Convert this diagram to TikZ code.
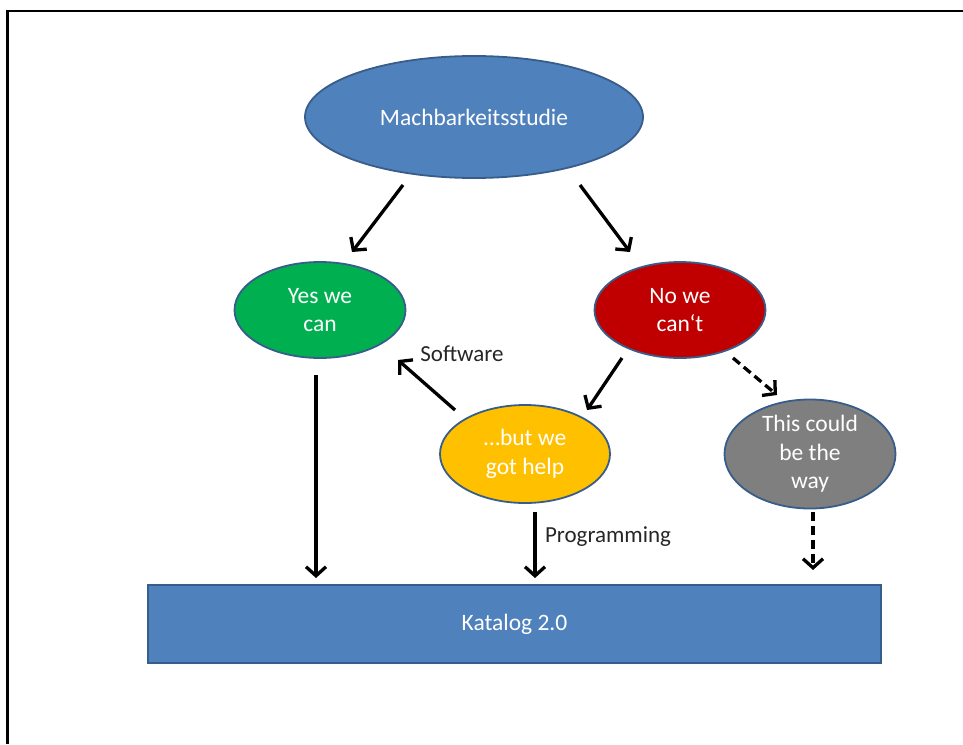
\documentclass[tikz,border=0pt]{standalone}
\usepackage{fontspec}
\setmainfont{Carlito}
\usetikzlibrary{arrows.meta,shapes.geometric}
\definecolor{boxblue}{HTML}{4F81BD}
\definecolor{edgeblue}{HTML}{385D8A}
\definecolor{okgreen}{HTML}{00B050}
\definecolor{nored}{HTML}{C00000}
\definecolor{helpyellow}{HTML}{FFC000}
\definecolor{waygray}{HTML}{7F7F7F}
\tikzset{
  blob/.style={ellipse, draw=edgeblue, line width=1.8pt, text=white,
    font=\fontsize{23.5}{28.5}\selectfont, align=center, inner sep=0pt},
  flow/.style={line width=3.3pt, -{Straight Barb[length=9pt,width=20pt,line width=3.3pt]}},
  maybe/.style={flow, dash pattern=on 9pt off 5pt},
  tag/.style={font=\fontsize{23}{27}\selectfont, text=black!85}
}
\begin{document}
\begin{tikzpicture}[x=1pt,y=-1pt]
  \useasboundingbox (0,0) rectangle (963,744);
  % page frame (left and top edges)
  \draw[line width=2.2pt] (7.5,744) -- (7.5,11) -- (963,11);

  \node[blob, fill=boxblue, minimum width=338pt, minimum height=122pt] (study) at (474,117) {Machbarkeitsstudie};
  \node[blob, fill=okgreen, minimum width=171pt, minimum height=96pt] (yes) at (320,310) {Yes we\\can};
  \node[blob, fill=nored, minimum width=171pt, minimum height=96pt] (no) at (680,310) {No we\\can‘t};
  \node[blob, fill=helpyellow, minimum width=170pt, minimum height=98pt] (help) at (525,454) {…but we\\got help};
  \node[blob, fill=waygray, minimum width=171pt, minimum height=100pt] (way) at (810,454) {This could\\be the\\way};
  \node[draw=edgeblue, line width=2.2pt, fill=boxblue, text=white, font=\fontsize{23.5}{28}\selectfont,
        minimum width=733pt, minimum height=78pt, inner sep=0pt] (cat) at (514.5,624) {Katalog 2.0};

  % connector end points
  \coordinate (a1) at (403,185); \coordinate (a2) at (352,252);
  \coordinate (b1) at (580,185); \coordinate (b2) at (630,252);
  \coordinate (c1) at (316,375); \coordinate (c2) at (316,578);
  \coordinate (d1) at (622,358); \coordinate (d2) at (587,410);
  \coordinate (e1) at (455,410); \coordinate (e2) at (398,360);
  \coordinate (f1) at (535,512); \coordinate (f2) at (535,578);
  \coordinate (g1) at (733,358); \coordinate (g2) at (777,395);
  \coordinate (h1) at (813,512); \coordinate (h2) at (813,570);

  \draw[flow] (a1) -- (a2);
  \draw[flow] (b1) -- (b2);
  \draw[flow] (c1) -- (c2);
  \draw[flow] (d1) -- (d2);
  \draw[flow] (e1) -- (e2);
  \draw[flow] (f1) -- (f2);
  \draw[maybe] (g1) -- (g2);
  \draw[maybe] (h1) -- (h2);

  \node[tag] (sw) at (462,354) {Software};
  \node[tag] (pg) at (608,537) {Programming};
\end{tikzpicture}
\end{document}
